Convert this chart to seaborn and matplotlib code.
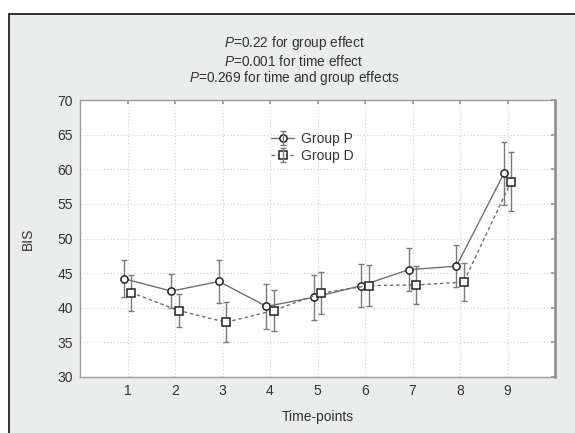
import numpy as np
import pandas as pd
import matplotlib
matplotlib.use('Agg')
import matplotlib.pyplot as plt
import seaborn as sns
from matplotlib.legend_handler import HandlerTuple
from matplotlib.patches import Rectangle

time_points = [1, 2, 3, 4, 5, 6, 7, 8, 9]
group_p_mean = [44.2, 42.4, 43.8, 40.2, 41.5, 43.2, 45.5, 46.0, 59.4]
group_p_err = [2.7, 2.5, 3.1, 3.2, 3.2, 3.1, 3.1, 3.0, 4.6]
group_d_mean = [42.2, 39.6, 37.9, 39.6, 42.1, 43.2, 43.3, 43.7, 58.2]
group_d_err = [2.6, 2.4, 2.9, 2.9, 3.0, 3.0, 2.8, 2.75, 4.3]

sns.set_theme(style='white')
plt.rcParams['font.family'] = ['Liberation Sans', 'DejaVu Sans']
plt.rcParams['mathtext.fontset'] = 'custom'
plt.rcParams['mathtext.it'] = 'Liberation Sans:italic'
txt = '#333333'

fig = plt.figure(figsize=(5.75, 4.33), dpi=100)
fig.patch.set_facecolor('white')
fig.patches.append(Rectangle((9 / 575, -0.05), 1.1, (433 - 14) / 433 + 0.05,
                             transform=fig.transFigure, facecolor='#ebecec',
                             edgecolor='#222222', linewidth=1.3, zorder=-10))

ax = fig.add_axes([80 / 575, (433 - 377) / 433, 475 / 575, 277 / 433])
ax.set_zorder(5)
ax.set_facecolor('white')

df = pd.DataFrame({
    'x': time_points + time_points,
    'y': group_p_mean + group_d_mean,
    'group': ['Group P'] * 9 + ['Group D'] * 9,
})
off = 0.075
df['xpos'] = np.where(df['group'] == 'Group P', df['x'] - off, df['x'] + off)

sns.lineplot(data=df[df['group'] == 'Group P'], x='xpos', y='y', ax=ax,
             color='#707070', linewidth=1.0, marker='o', markersize=5.2,
             markerfacecolor='white', markeredgecolor='#222222',
             markeredgewidth=1.1, zorder=4)
sns.lineplot(data=df[df['group'] == 'Group D'], x='xpos', y='y', ax=ax,
             color='#707070', linewidth=1.0, linestyle=(0, (2.5, 2)),
             marker='s', markersize=5.4, markerfacecolor='white',
             markeredgecolor='#222222', markeredgewidth=1.1, zorder=4)
lines = ax.get_lines()

xp = [t - off for t in time_points]
xd = [t + off for t in time_points]
eb_p = ax.errorbar(xp, group_p_mean, yerr=group_p_err, fmt='none',
                   ecolor='#7a7a7a', elinewidth=1.0, capsize=2.2, capthick=1.0, zorder=3)
eb_d = ax.errorbar(xd, group_d_mean, yerr=group_d_err, fmt='none',
                   ecolor='#7a7a7a', elinewidth=1.0, capsize=2.2, capthick=1.0, zorder=3)

ax.set_xlim(0, 10)
ax.set_ylim(30, 70)
ax.set_xticks(time_points)
ax.set_yticks(np.arange(30, 71, 5))
ax.grid(True, color='#cfcfcf', linestyle=(0, (1, 2)), linewidth=0.8)
ax.tick_params(axis='both', direction='in', length=3, color='#999999',
               labelsize=10, labelcolor=txt, top=True, right=True,
               labeltop=False, labelright=False, pad=5)
for s in ['left', 'bottom', 'top']:
    ax.spines[s].set_color('#9a9a9a')
    ax.spines[s].set_linewidth(1.0)
ax.spines['right'].set_color('#8a8a8a')
ax.spines['right'].set_linewidth(1.8)

ax.set_xlabel('Time-points', fontsize=10, color=txt, labelpad=9)
ax.set_ylabel('BIS', fontsize=10, color=txt, labelpad=16)

ax.legend([(lines[0], eb_p), (lines[1], eb_d)], ['Group P', 'Group D'],
          handler_map={tuple: HandlerTuple(ndivide=1)},
          loc='upper left', bbox_to_anchor=(0.39, 0.905), frameon=False,
          fontsize=10, labelcolor=txt, handlelength=1.7, handletextpad=0.5,
          labelspacing=0.2, borderaxespad=0)

cx = 294 / 575
fig.text(cx, 1 - 43 / 433, '$P$=0.22 for group effect', ha='center', va='center',
         fontsize=9.8, color=txt)
fig.text(cx, 1 - 61 / 433, '$P$=0.001 for time effect', ha='center', va='center',
         fontsize=9.8, color=txt)
fig.text(cx, 1 - 78 / 433, '$P$=0.269 for time and group effects', ha='center',
         va='center', fontsize=9.8, color=txt)

fig.savefig('out.png', dpi=100)
